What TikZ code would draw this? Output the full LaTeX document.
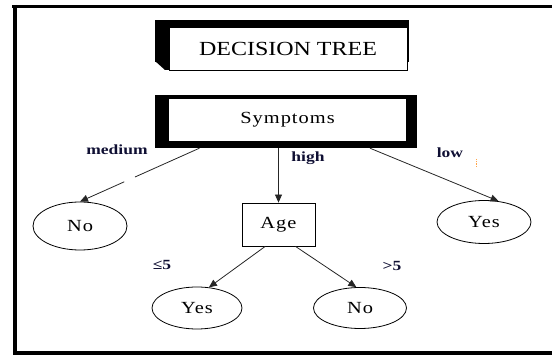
\documentclass[tikz,border=0pt]{standalone}
\usepackage{fontspec}
\setmainfont{Liberation Serif}
\newfontfamily\wfont[FakeStretch=1.2,LetterSpace=6]{Liberation Serif}
\newfontfamily\tfont[FakeStretch=1.2]{Liberation Serif}
\usetikzlibrary{shapes.geometric,arrows.meta,calc}
\definecolor{lbl}{rgb}{0.06,0.06,0.2}
\begin{document}
\begin{tikzpicture}[x=1pt,y=-1pt,
  leaf/.style={ellipse,draw,line width=0.8pt,inner sep=0pt,font=\wfont\fontsize{17}{17}\selectfont},
  boxnode/.style={draw,line width=0.8pt,inner sep=0pt,font=\wfont\fontsize{17}{17}\selectfont},
  conn/.style={line width=0.8pt,draw=black!85,-{Triangle[length=8pt,width=7pt]}},
  plain/.style={line width=0.8pt,draw=black!85},
  lab/.style={font=\bfseries\fontsize{14}{14}\selectfont\addfontfeature{FakeStretch=1.25},text=lbl,inner sep=0pt}]
\useasboundingbox (0,0) rectangle (552,355);
% frame
\draw[line width=3pt] (12,6.5) -- (552,6.5);
\draw[line width=4.5pt] (15,5) -- (15,355);
\draw[line width=4pt] (13,353) -- (552,353);
% title box
\fill (155,20) rectangle (409,62);
\fill (155,61) -- (169,61) -- (169,70) -- (165,70) -- cycle;
\node[boxnode,fill=white,minimum width=238pt,minimum height=43pt,font=\tfont\fontsize{20}{20}\selectfont] (title) at (288,48.5) {DECISION TREE\hspace{14pt}};
% symptoms box
\node[fill=black,minimum width=262pt,minimum height=53pt,inner sep=0pt] (symbox) at (286,121.5) {};
\node[fill=white,minimum width=237pt,minimum height=42pt,inner sep=0pt,font=\wfont\fontsize{17}{17}\selectfont] (sym) at (287.5,120) {Symptoms};
% nodes
\node[boxnode,minimum width=73pt,minimum height=43pt] (age) at (278.5,224.5) {Age};
\node[leaf,minimum width=94pt,minimum height=48pt] (no1) at (80,226) {No};
\node[leaf,minimum width=94pt,minimum height=43pt] (yes1) at (484,222) {Yes};
\node[leaf,minimum width=90pt,minimum height=42pt] (yes2) at (197,308) {Yes};
\node[leaf,minimum width=93pt,minimum height=41pt] (no2) at (360,308) {No};
% connector start points
\coordinate (ms) at ($(symbox.south west)!0.17!(symbox.south east)$);
\coordinate (ls) at ($(symbox.south west)!0.82!(symbox.south east)$);
\coordinate (as1) at ($(age.south west)!0.32!(age.south east)$);
\coordinate (as2) at ($(age.south west)!0.73!(age.south east)$);
% connectors
\draw[plain] (ms) -- ($(ms)!0.54!(no1.north)$);
\draw[conn] ($(ms)!0.63!(no1.north)$) -- (no1.north);
\draw[conn] (age.north |- symbox.south) -- (age.north);
\draw[conn] (ls) -- (yes1.55);
\draw[conn] (as1) -- (yes2.60);
\draw[conn] (as2) -- (no2.100);
% labels
\node[lab] (lmed) at (117,150) {medium};
\node[lab] (lhigh) at (308,158) {high};
\node[lab] (llow) at (450,153) {low};
\node[lab] (lle) at (162,265) {≤5};
\node[lab] (lgt) at (392,266) {>5};
\draw[orange!70,densely dotted,line width=0.8pt] (476,159) -- (476,167);
\end{tikzpicture}
\end{document}
